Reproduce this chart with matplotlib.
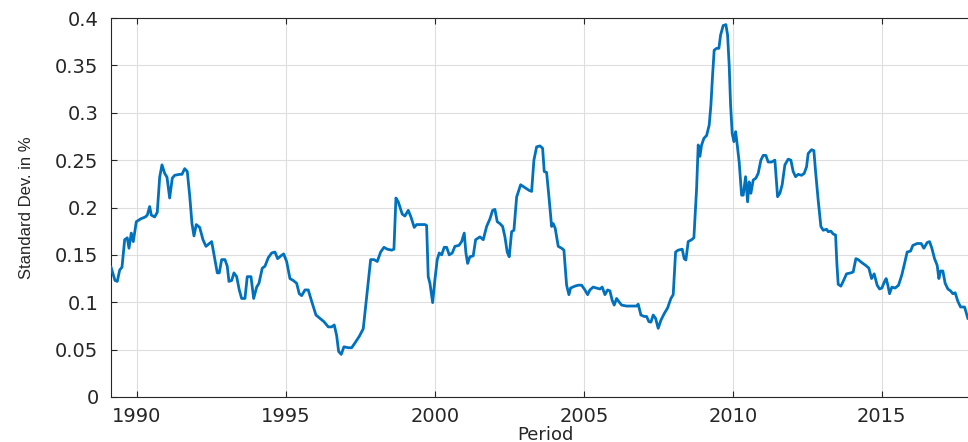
import numpy as np
import matplotlib.pyplot as plt

# rolling standard deviation, sampled along the period (decimal years)
years = [
    1989.128, 1989.262, 1989.339, 1989.419, 1989.497, 1989.587, 1989.674, 1989.732,
    1989.809, 1989.876, 1989.977, 1990.124, 1990.279, 1990.346, 1990.426, 1990.480,
    1990.594, 1990.681, 1990.762, 1990.839, 1990.930, 1991.007, 1991.097, 1991.185,
    1991.265, 1991.433, 1991.510, 1991.601, 1991.688, 1991.768, 1991.846, 1991.913,
    1991.990, 1992.104, 1992.215, 1992.315, 1992.507, 1992.617, 1992.695, 1992.762,
    1992.842, 1992.953, 1993.030, 1993.087, 1993.178, 1993.255, 1993.346, 1993.433,
    1993.513, 1993.624, 1993.701, 1993.826, 1993.916, 1994.017, 1994.094, 1994.205,
    1994.295, 1994.406, 1994.520, 1994.631, 1994.721, 1994.832, 1994.923, 1995.023,
    1995.134, 1995.245, 1995.359, 1995.446, 1995.527, 1995.638, 1995.748, 1995.862,
    1996.007, 1996.141, 1996.275, 1996.419, 1996.534, 1996.621, 1996.701, 1996.768,
    1996.856, 1996.946, 1997.091, 1997.205, 1997.315, 1997.460, 1997.594, 1997.708,
    1997.842, 1997.953, 1998.064, 1998.178, 1998.289, 1998.399, 1998.547, 1998.624,
    1998.691, 1998.768, 1998.903, 1998.993, 1999.104, 1999.195, 1999.305, 1999.386,
    1999.497, 1999.664, 1999.721, 1999.775, 1999.832, 1999.923, 2000.000, 2000.077,
    2000.144, 2000.225, 2000.312, 2000.393, 2000.480, 2000.581, 2000.671, 2000.805,
    2000.896, 2000.983, 2001.040, 2001.097, 2001.174, 2001.285, 2001.366, 2001.510,
    2001.621, 2001.735, 2001.846, 2001.936, 2002.013, 2002.091, 2002.181, 2002.272,
    2002.349, 2002.426, 2002.493, 2002.574, 2002.651, 2002.742, 2002.876, 2003.020,
    2003.164, 2003.245, 2003.322, 2003.413, 2003.523, 2003.614, 2003.668, 2003.748,
    2003.836, 2003.916, 2003.970, 2004.037, 2004.138, 2004.252, 2004.329, 2004.419,
    2004.497, 2004.554, 2004.698, 2004.809, 2004.923, 2005.034, 2005.124, 2005.201,
    2005.312, 2005.426, 2005.537, 2005.614, 2005.705, 2005.795, 2005.872, 2005.950,
    2006.017, 2006.097, 2006.174, 2006.265, 2006.433, 2006.601, 2006.768, 2006.822,
    2006.913, 2007.023, 2007.104, 2007.181, 2007.248, 2007.326, 2007.406, 2007.493,
    2007.584, 2007.695, 2007.809, 2007.919, 2007.997, 2008.077, 2008.164, 2008.299,
    2008.366, 2008.423, 2008.500, 2008.614, 2008.691, 2008.782, 2008.836, 2008.893,
    2008.950, 2009.027, 2009.118, 2009.205, 2009.262, 2009.319, 2009.372, 2009.453,
    2009.530, 2009.587, 2009.674, 2009.765, 2009.822, 2009.876, 2009.923, 2009.977,
    2010.034, 2010.091, 2010.124, 2010.211, 2010.292, 2010.346, 2010.426, 2010.493,
    2010.547, 2010.604, 2010.682, 2010.772, 2010.849, 2010.940, 2011.017, 2011.107,
    2011.185, 2011.299, 2011.409, 2011.500, 2011.577, 2011.654, 2011.745, 2011.856,
    2011.946, 2012.023, 2012.104, 2012.191, 2012.305, 2012.393, 2012.473, 2012.527,
    2012.641, 2012.718, 2012.775, 2012.862, 2012.953, 2013.030, 2013.144, 2013.198,
    2013.289, 2013.366, 2013.446, 2013.490, 2013.534, 2013.624, 2013.701, 2013.815,
    2013.960, 2014.037, 2014.128, 2014.205, 2014.319, 2014.453, 2014.564, 2014.654,
    2014.742, 2014.842, 2014.923, 2015.000, 2015.091, 2015.144, 2015.201, 2015.258,
    2015.336, 2015.446, 2015.560, 2015.671, 2015.762, 2015.849, 2015.963, 2016.040,
    2016.185, 2016.319, 2016.409, 2016.520, 2016.601, 2016.678, 2016.768, 2016.856,
    2016.913, 2016.970, 2017.047, 2017.124, 2017.215, 2017.305, 2017.383, 2017.460,
    2017.550, 2017.641, 2017.775, 2017.886,
]
std_dev = [
    0.137, 0.123, 0.122, 0.134, 0.137, 0.166, 0.168, 0.157,
    0.173, 0.164, 0.185, 0.188, 0.190, 0.192, 0.201, 0.192,
    0.190, 0.195, 0.232, 0.245, 0.236, 0.232, 0.210, 0.231,
    0.234, 0.235, 0.235, 0.241, 0.238, 0.213, 0.183, 0.170,
    0.182, 0.179, 0.166, 0.159, 0.164, 0.145, 0.131, 0.131,
    0.145, 0.145, 0.138, 0.122, 0.123, 0.131, 0.127, 0.113,
    0.104, 0.104, 0.127, 0.127, 0.104, 0.116, 0.120, 0.136,
    0.138, 0.147, 0.152, 0.153, 0.146, 0.149, 0.151, 0.143,
    0.125, 0.123, 0.120, 0.109, 0.107, 0.113, 0.113, 0.101,
    0.0865, 0.083, 0.0795, 0.074, 0.074, 0.076, 0.065, 0.048,
    0.045, 0.053, 0.052, 0.052, 0.057, 0.064, 0.072, 0.106,
    0.145, 0.145, 0.143, 0.153, 0.158, 0.156, 0.155, 0.156,
    0.210, 0.206, 0.193, 0.191, 0.197, 0.190, 0.179, 0.182,
    0.182, 0.182, 0.181, 0.127, 0.120, 0.0996, 0.124, 0.145,
    0.152, 0.150, 0.158, 0.158, 0.150, 0.152, 0.159, 0.160,
    0.164, 0.173, 0.152, 0.141, 0.148, 0.149, 0.166, 0.169,
    0.166, 0.180, 0.188, 0.197, 0.198, 0.185, 0.183, 0.180,
    0.169, 0.153, 0.148, 0.1745, 0.176, 0.211, 0.224, 0.221,
    0.218, 0.217, 0.250, 0.264, 0.265, 0.2625, 0.238, 0.237,
    0.208, 0.180, 0.183, 0.178, 0.159, 0.157, 0.155, 0.118,
    0.108, 0.115, 0.117, 0.118, 0.118, 0.113, 0.108, 0.113,
    0.116, 0.115, 0.114, 0.116, 0.108, 0.113, 0.112, 0.102,
    0.097, 0.104, 0.1006, 0.097, 0.096, 0.096, 0.096, 0.098,
    0.0865, 0.085, 0.085, 0.0795, 0.079, 0.0865, 0.083, 0.0725,
    0.081, 0.088, 0.094, 0.104, 0.108, 0.153, 0.155, 0.156,
    0.146, 0.1446, 0.164, 0.166, 0.168, 0.220, 0.266, 0.254,
    0.266, 0.273, 0.276, 0.287, 0.308, 0.340, 0.366, 0.368,
    0.368, 0.382, 0.392, 0.393, 0.382, 0.350, 0.308, 0.278,
    0.2695, 0.280, 0.272, 0.248, 0.213, 0.213, 0.2325, 0.206,
    0.227, 0.215, 0.229, 0.231, 0.236, 0.250, 0.255, 0.255,
    0.248, 0.248, 0.250, 0.2114, 0.215, 0.224, 0.245, 0.251,
    0.250, 0.238, 0.2325, 0.235, 0.234, 0.236, 0.243, 0.257,
    0.261, 0.260, 0.238, 0.208, 0.180, 0.176, 0.177, 0.1745,
    0.175, 0.172, 0.171, 0.141, 0.119, 0.117, 0.122, 0.130,
    0.131, 0.132, 0.146, 0.145, 0.142, 0.139, 0.136, 0.125,
    0.130, 0.118, 0.114, 0.115, 0.122, 0.125, 0.118, 0.109,
    0.116, 0.115, 0.118, 0.129, 0.141, 0.153, 0.154, 0.160,
    0.162, 0.162, 0.157, 0.163, 0.164, 0.157, 0.146, 0.139,
    0.125, 0.133, 0.133, 0.120, 0.114, 0.112, 0.109, 0.110,
    0.101, 0.095, 0.095, 0.083,
]

xtick_years = [1990, 1995, 2000, 2005, 2010, 2015]
ytick_vals = [0, 0.05, 0.1, 0.15, 0.2, 0.25, 0.3, 0.35, 0.4]
ytick_labels = ["0", "0.05", "0.1", "0.15", "0.2", "0.25", "0.3", "0.35", "0.4"]

axis_col = "#262626"

fig = plt.figure(figsize=(9.68, 4.42), dpi=100)
# axes runs slightly past the right edge of the figure
ax = fig.add_axes([111/968, 45/442, 868/968, 379/442])

ax.plot(years, std_dev, color="#0072BD", lw=2.0, zorder=3)

ax.set_xlim(1989.128, 2018.26)
ax.set_ylim(0, 0.4)
ax.set_xticks(xtick_years)
ax.set_xticklabels([str(y) for y in xtick_years])
ax.set_yticks(ytick_vals)
ax.set_yticklabels(ytick_labels)

ax.grid(True, color="#dedede", lw=0.8)
ax.set_axisbelow(True)
ax.tick_params(direction="in", top=True, right=False, length=4, width=0.8,
               colors=axis_col, labelsize=14)
ax.tick_params(axis="y", pad=9)
ax.tick_params(axis="x", pad=7)
for side in ["left", "bottom", "top"]:
    ax.spines[side].set_color(axis_col)
    ax.spines[side].set_linewidth(0.8)
ax.spines["right"].set_visible(False)

ax.set_xlabel("Period", fontsize=13, color=axis_col, labelpad=0)
ax.set_ylabel("Standard Dev. in %", fontsize=12, color=axis_col,
              family="Liberation Sans")
ax.yaxis.set_label_coords(-0.089, 0.5)

fig.savefig("out.png", dpi=100)
